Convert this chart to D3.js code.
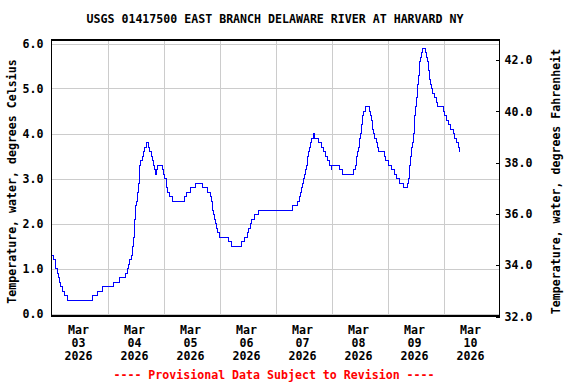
<!DOCTYPE html>
<html>
<head>
<meta charset="utf-8">
<script src="https://cdn.jsdelivr.net/npm/d3@7"></script>
<style>
  html, body { margin: 0; padding: 0; background: #fff; }
  svg { display: block; }
  text { font-family: "DejaVu Sans Mono", "Liberation Mono", monospace; font-size: 11.6px; font-weight: bold; }
</style>
</head>
<body>
<svg id="chart" width="576" height="384"></svg>
<script>
const title = 'USGS 01417500 EAST BRANCH DELAWARE RIVER AT HARVARD NY';
const leftLabel = 'Temperature, water, degrees Celsius';
const rightLabel = 'Temperature, water, degrees Fahrenheit';
const footer = '---- Provisional Data Subject to Revision ----';

// hours after 2026-03-03 00:00, value holds until the next entry
const hours = [
  0.0, 0.8, 1.5, 1.9, 2.4, 2.8, 3.3, 3.8, 4.5, 5.5, 6.9,
  17.5, 19.8, 21.8, 26.5, 29.1, 31.5, 32.4, 32.9, 33.5, 34.2,
  34.6, 34.8, 35.1, 35.4, 35.7, 35.9, 36.2, 36.5, 36.8, 37.1,
  37.4, 37.6, 37.9, 38.2, 38.8, 39.3, 39.9, 40.6, 41.7, 42.2,
  42.8, 43.2, 43.6, 44.1, 44.4, 44.8, 45.6, 47.7, 48.2, 48.6,
  49.1, 49.4, 49.9, 50.5, 51.8, 56.9, 57.9, 59.4, 61.6, 64.8,
  66.9, 68.1, 68.7, 68.9, 69.2, 69.5, 69.8, 70.2, 70.8, 71.2,
  72.2, 75.8, 77.2, 81.3, 82.6, 83.9, 84.5, 85.4, 85.9, 87.2,
  88.8, 103.4, 105.6, 106.2, 106.6, 107.1, 107.7, 108.0, 108.3, 108.8,
  109.2, 109.6, 109.9, 110.2, 110.5, 110.9, 111.3, 112.1, 112.6, 114.5,
  115.5, 116.4, 117.6, 118.4, 119.2, 119.8, 120.2, 123.5, 124.5, 129.5,
  130.2, 130.5, 130.8, 131.1, 131.5, 131.8, 132.1, 132.4, 132.8, 133.1,
  133.4, 133.8, 134.4, 136.2, 136.8, 137.1, 137.4, 137.7, 137.9, 138.5,
  139.1, 139.6, 140.2, 142.5, 143.2, 144.3, 145.6, 146.8, 147.8, 149.2,
  150.8, 152.7, 153.1, 153.3, 153.6, 153.9, 154.4, 154.6, 155.1, 155.4,
  155.7, 155.9, 156.1, 156.3, 156.7, 157.0, 157.2, 157.5, 157.8, 158.1,
  158.5, 159.1, 160.2, 160.8, 161.1, 161.4, 161.7, 161.9, 162.2, 162.5,
  162.8, 163.2, 164.1, 164.9, 165.5, 167.9, 168.6, 169.4, 170.1, 171.1,
  172.1, 172.9, 173.7, 174.4, 174.8, 175.1
];
const tempC = [
  1.3, 1.2, 1.1, 1.0, 0.9, 0.8, 0.7, 0.6, 0.5, 0.4, 0.3,
  0.4, 0.5, 0.6, 0.7, 0.8, 0.9, 1.0, 1.1, 1.2, 1.3,
  1.4, 1.5, 1.7, 1.9, 2.1, 2.2, 2.4, 2.5, 2.7, 2.8,
  2.9, 3.1, 3.3, 3.4, 3.5, 3.6, 3.7, 3.8, 3.7, 3.6,
  3.5, 3.4, 3.3, 3.2, 3.1, 3.2, 3.3, 3.2, 3.1, 3.0,
  2.9, 2.8, 2.7, 2.6, 2.5, 2.6, 2.7, 2.8, 2.9, 2.8,
  2.7, 2.6, 2.5, 2.4, 2.3, 2.2, 2.1, 2.0, 1.9, 1.8,
  1.7, 1.6, 1.5, 1.6, 1.7, 1.8, 1.9, 2.0, 2.1, 2.2,
  2.3, 2.4, 2.5, 2.6, 2.7, 2.8, 2.9, 3.0, 3.1, 3.2,
  3.3, 3.4, 3.5, 3.6, 3.7, 3.8, 3.9, 4.0, 3.9, 3.8,
  3.7, 3.6, 3.5, 3.4, 3.3, 3.2, 3.3, 3.2, 3.1, 3.2,
  3.3, 3.4, 3.5, 3.6, 3.7, 3.8, 3.9, 4.0, 4.2, 4.3,
  4.4, 4.5, 4.6, 4.5, 4.4, 4.3, 4.2, 4.1, 4.0, 3.9,
  3.8, 3.7, 3.6, 3.5, 3.4, 3.3, 3.2, 3.1, 3.0, 2.9,
  2.8, 2.9, 3.0, 3.1, 3.3, 3.5, 3.7, 3.8, 4.0, 4.2,
  4.4, 4.5, 4.6, 4.8, 5.0, 5.1, 5.3, 5.4, 5.6, 5.7,
  5.8, 5.9, 5.8, 5.7, 5.6, 5.5, 5.4, 5.3, 5.2, 5.1,
  5.0, 4.9, 4.8, 4.7, 4.6, 4.5, 4.4, 4.3, 4.2, 4.1,
  4.0, 3.9, 3.8, 3.7, 3.6, 3.6
];

const celsiusTicks = [0, 1, 2, 3, 4, 5, 6];
const fahrenheitTicks = [32, 34, 36, 38, 40, 42];
const dayLabels = ['03', '04', '05', '06', '07', '08', '09', '10'];

const startDay = new Date(2026, 2, 3);
const endDay = new Date(2026, 2, 11);
const hourMs = 3600 * 1000;

const svg = d3.select('#chart');
const plotLeft = 51.5;
const plotRight = 499.5;
const plotTop = 40;
const plotBottom = 316;

const x = d3.scaleTime().domain([startDay, endDay]).range([plotLeft, plotRight]);
const y = d3.scaleLinear().domain([0, 6]).range([313.5, 43.5]);
const yF = d3.scaleLinear().domain([32, 42]).range([316.5, 60]);

const data = hours.map((h, i) => ({ t: new Date(startDay.getTime() + h * hourMs), v: tempC[i] }));

// grid
const grid = svg.append('g')
  .attr('stroke', '#cccccc')
  .attr('stroke-width', 1)
  .attr('shape-rendering', 'crispEdges');

grid.selectAll('line.h')
  .data(celsiusTicks)
  .join('line')
  .attr('class', 'h')
  .attr('x1', plotLeft).attr('x2', plotRight)
  .attr('y1', (d) => Math.round(y(d)) + 0.5)
  .attr('y2', (d) => Math.round(y(d)) + 0.5);

const midnights = d3.timeDay.range(d3.timeDay.offset(startDay, 1), endDay);
grid.selectAll('line.v')
  .data(midnights)
  .join('line')
  .attr('class', 'v')
  .attr('x1', (d) => Math.round(x(d)) + 0.5)
  .attr('x2', (d) => Math.round(x(d)) + 0.5)
  .attr('y1', plotTop).attr('y2', plotBottom);

// data line
const line = d3.line()
  .x((d) => x(d.t))
  .y((d) => y(d.v))
  .curve(d3.curveStepAfter);

svg.append('path')
  .datum(data)
  .attr('fill', 'none')
  .attr('stroke', '#0000ff')
  .attr('stroke-width', 1)
  .attr('shape-rendering', 'crispEdges')
  .attr('d', line);

// frame
svg.append('rect')
  .attr('x', plotLeft).attr('y', plotTop)
  .attr('width', plotRight - plotLeft).attr('height', plotBottom - plotTop)
  .attr('fill', 'none')
  .attr('stroke', '#000')
  .attr('stroke-width', 1.2)
  .attr('shape-rendering', 'crispEdges');

// left axis
const yAxis = svg.append('g')
  .attr('transform', `translate(${plotLeft},0)`)
  .call(d3.axisLeft(y).tickValues(celsiusTicks).tickSize(0).tickPadding(8).tickFormat(d3.format('.1f')));
yAxis.select('.domain').remove();

// right axis, ticks pointing into the plot
const yAxisR = svg.append('g')
  .attr('transform', `translate(${plotRight},0)`)
  .call(d3.axisRight(yF).tickValues(fahrenheitTicks).tickSizeInner(-4).tickSizeOuter(0).tickPadding(5).tickFormat(d3.format('.1f')));
yAxisR.select('.domain').remove();
yAxisR.selectAll('line').attr('stroke', '#000').attr('shape-rendering', 'crispEdges');

svg.selectAll('.tick text')
  .attr('fill', '#000')
  .style('font-family', '"DejaVu Sans Mono", monospace')
  .style('font-size', '11.6px')
  .style('font-weight', 'bold');

// x labels at noon of each day
const noons = dayLabels.map((d, i) => d3.timeHour.offset(d3.timeDay.offset(startDay, i), 12));
const xl = svg.append('g').attr('text-anchor', 'middle');
xl.selectAll('text')
  .data(noons)
  .join('text')
  .attr('x', (d) => x(d) - 1)
  .attr('y', 334)
  .each(function (d, i) {
    const t = d3.select(this);
    t.append('tspan').attr('x', x(d) - 1).attr('dy', 0).text('Mar');
    t.append('tspan').attr('x', x(d) - 1).attr('dy', 13).text(dayLabels[i]);
    t.append('tspan').attr('x', x(d) - 1).attr('dy', 13).text(d.getFullYear());
  });

// title and labels
svg.append('text')
  .attr('x', 275).attr('y', 23)
  .attr('text-anchor', 'middle')
  .text(title);

svg.append('text')
  .attr('transform', 'translate(16,181.5) rotate(-90)')
  .attr('text-anchor', 'middle')
  .text(leftLabel);

svg.append('text')
  .attr('transform', 'translate(559.5,181.5) rotate(-90)')
  .attr('text-anchor', 'middle')
  .text(rightLabel);

svg.append('text')
  .attr('x', 274).attr('y', 379)
  .attr('text-anchor', 'middle')
  .attr('fill', '#ff0000')
  .text(footer);
</script>
</body>
</html>
